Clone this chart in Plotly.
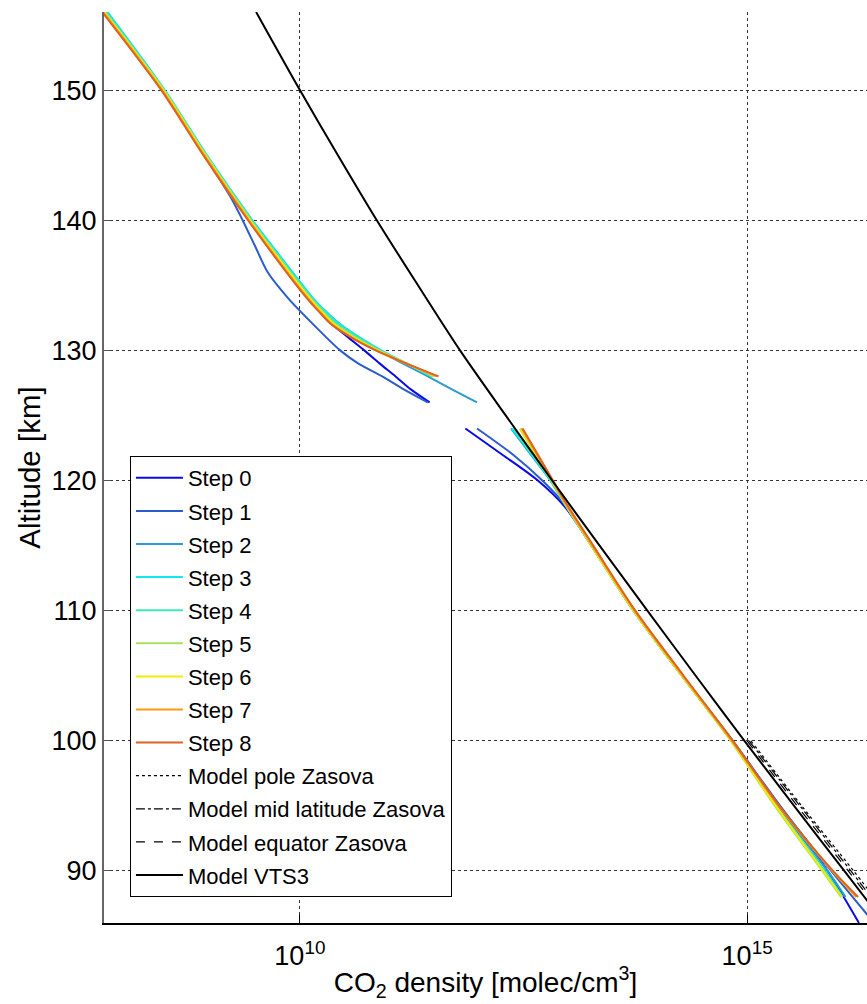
import plotly.graph_objects as go

# ---------------- data ----------------
step_names = ["Step 0", "Step 1", "Step 2", "Step 3", "Step 4",
              "Step 5", "Step 6", "Step 7", "Step 8"]
step_colors = ["#0a0ae6", "#2a5ccc", "#2a9bd4", "#12e6ee", "#3ee8b8",
               "#a8e060", "#f2ec00", "#ff9a10", "#dc6422"]

# upper segments (altitude km, density molec/cm3)
up_alt_a = [156, 150, 145, 140, 136, 134, 133, 132, 131, 130, 129, 128]
step8_up = [6.17e7, 2.82e8, 8.32e8, 2.63e9, 7.08e9, 1.20e10, 1.62e10, 2.24e10, 3.72e10, 7.08e10, 1.55e11, 3.55e11]
step7_up = [6.31e7, 2.88e8, 8.51e8, 2.69e9, 7.24e9, 1.23e10, 1.66e10, 2.29e10, 3.80e10, 7.08e10, 1.51e11, 3.39e11]
step6_up = [6.46e7, 2.95e8, 8.71e8, 2.75e9, 7.59e9, 1.29e10, 1.74e10, 2.40e10, 3.98e10, 7.41e10, 1.55e11, 3.24e11]
step5_up = [6.61e7, 3.02e8, 8.91e8, 2.82e9, 7.76e9, 1.32e10, 1.78e10, 2.51e10, 4.17e10, 7.59e10, 1.55e11, 3.16e11]
step4_up = [6.76e7, 3.02e8, 8.91e8, 2.88e9, 7.94e9, 1.35e10, 1.86e10, 2.63e10, 4.37e10, 7.76e10, 1.55e11, 3.09e11]
step3_up = [7.08e7, 3.09e8, 9.12e8, 2.95e9, 8.32e9, 1.41e10, 1.95e10, 2.82e10, 4.68e10, 8.13e10, 1.55e11, 2.95e11]

up_alt_2 = [156, 150, 145, 140, 137, 134, 132, 130, 128, 127, 126]
step2_up = [6.92e7, 3.02e8, 8.91e8, 2.88e9, 6.03e9, 1.38e10, 2.82e10, 7.59e10, 2.69e11, 5.01e11, 9.55e11]

up_alt_1 = [156, 150, 145, 141.6, 140, 138, 136, 134, 132, 130, 129, 128, 127, 126]
step1_up = [6.31e7, 2.88e8, 8.51e8, 1.74e9, 2.29e9, 3.16e9, 4.37e9, 7.41e9, 1.41e10, 2.82e10, 4.47e10, 8.32e10, 1.45e11, 2.69e11]

up_alt_0 = [156, 150, 145, 140, 136, 134, 133, 132.3, 131, 130, 129, 128, 127, 126]
step0_up = [6.31e7, 2.88e8, 8.51e8, 2.69e9, 7.24e9, 1.23e10, 1.66e10, 2.04e10, 3.47e10, 5.25e10, 7.76e10, 1.175e11, 1.74e11, 2.82e11]

# lower segments
lo_alt_86 = [124, 122, 120, 118, 115, 110, 105, 100, 95, 90, 86]
step0_lo = [7.08e11, 1.82e12, 4.57e12, 9.12e12, 1.82e13, 5.37e13, 1.86e14, 6.76e14, 2.29e15, 7.94e15, 1.78e16]
step1_lo = [9.55e11, 2.40e12, 5.13e12, 9.55e12, 1.86e13, 5.50e13, 1.905e14, 6.92e14, 2.34e15, 8.71e15, 2.63e16]

lo_alt_88 = [124, 122, 120, 118, 115, 110, 105, 100, 95, 90, 88]
step2_lo = [2.29e12, 3.80e12, 6.31e12, 9.55e12, 1.82e13, 5.37e13, 1.905e14, 6.76e14, 2.19e15, 7.94e15, 1.26e16]
step3_lo = [2.34e12, 3.89e12, 6.31e12, 9.55e12, 1.82e13, 5.37e13, 1.86e14, 6.61e14, 2.09e15, 7.41e15, 1.175e16]
step4_lo = [2.45e12, 3.98e12, 6.46e12, 9.55e12, 1.82e13, 5.37e13, 1.86e14, 6.61e14, 2.09e15, 7.24e15, 1.15e16]
step5_lo = [2.88e12, 4.27e12, 6.46e12, 9.55e12, 1.82e13, 5.37e13, 1.86e14, 6.61e14, 2.04e15, 6.92e15, 1.12e16]
step6_lo = [2.95e12, 4.37e12, 6.61e12, 9.77e12, 1.82e13, 5.37e13, 1.86e14, 6.61e14, 2.09e15, 7.08e15, 1.15e16]
step7_lo = [3.02e12, 4.47e12, 6.61e12, 9.77e12, 1.86e13, 5.50e13, 1.905e14, 6.76e14, 2.24e15, 8.91e15, 1.66e16]
step8_lo = [3.09e12, 4.57e12, 6.76e12, 1.00e13, 1.905e13, 5.62e13, 1.95e14, 6.92e14, 2.29e15, 9.12e15, 1.74e16]

# models
vts3_alt = [156, 150, 145, 140, 135, 130, 125, 120, 115, 110, 105, 100, 95, 90, 86]
vts3_dens = [3.24e9, 1.00e10, 2.66e10, 7.24e10, 2.09e11, 6.17e11, 2.00e12, 6.61e12,
             2.24e13, 7.67e13, 2.66e14, 9.33e14, 3.35e15, 1.22e16, 3.43e16]
zasova_alt = [100, 95, 90, 86]
zasova_pole = [1.10e15, 4.07e15, 1.55e16, 4.37e16]
zasova_mid = [1.05e15, 3.89e15, 1.445e16, 4.07e16]
zasova_equator = [1.00e15, 3.63e15, 1.35e16, 3.80e16]

x_tick_vals = [1e10, 1e15]
x_tick_text = ["10<sup>10</sup>", "10<sup>15</sup>"]
y_tick_vals = [90, 100, 110, 120, 130, 140, 150]

# ---------------- assemble ----------------
steps = [
    (up_alt_0, step0_up, lo_alt_86, step0_lo),
    (up_alt_1, step1_up, lo_alt_86, step1_lo),
    (up_alt_2, step2_up, lo_alt_88, step2_lo),
    (up_alt_a, step3_up, lo_alt_88, step3_lo),
    (up_alt_a, step4_up, lo_alt_88, step4_lo),
    (up_alt_a, step5_up, lo_alt_88, step5_lo),
    (up_alt_a, step6_up, lo_alt_88, step6_lo),
    (up_alt_a, step7_up, lo_alt_88, step7_lo),
    (up_alt_a, step8_up, lo_alt_88, step8_lo),
]

FONT = "Liberation Sans, Arial, Helvetica, sans-serif"
fig = go.Figure()

for i, (ua, ud, la, ld) in enumerate(steps):
    fig.add_trace(go.Scatter(
        x=list(ud) + [None] + list(ld),
        y=list(ua) + [None] + list(la),
        mode="lines", name=step_names[i], legendgroup=step_names[i],
        line=dict(color=step_colors[i], width=2, shape="spline", smoothing=0.8),
        connectgaps=False,
    ))

models = [
    ("Model pole Zasova", zasova_alt, zasova_pole, "dot", 1.2),
    ("Model mid latitude Zasova", zasova_alt, zasova_mid, "dashdot", 1.2),
    ("Model equator Zasova", zasova_alt, zasova_equator, "dash", 1.2),
    ("Model VTS3", vts3_alt, vts3_dens, "solid", 2),
]
for name, a, d, dash, w in models:
    fig.add_trace(go.Scatter(
        x=d, y=a, mode="lines", name=name, legendgroup=name,
        line=dict(color="black", width=w, dash=dash, shape="spline", smoothing=0.8),
    ))

fig.update_layout(
    width=867, height=1004,
    margin=dict(l=104, r=0, t=12, b=81),
    paper_bgcolor="white", plot_bgcolor="white",
    font=dict(family=FONT, size=27, color="black"),
    showlegend=True,
    legend=dict(
        x=0.034, y=0.5126, xanchor="left", yanchor="top",
        bgcolor="white", bordercolor="black", borderwidth=1,
        font=dict(family=FONT, size=22, color="black"),
        traceorder="grouped", tracegroupgap=1.5, itemwidth=47,
    ),
)

fig.update_xaxes(
    type="log", range=[7.81, 16.34],
    tickvals=x_tick_vals, ticktext=x_tick_text,
    ticks="inside", ticklen=8, tickcolor="black",
    ticklabelstandoff=8,
    showline=True, linecolor="black", linewidth=1.5, mirror=False,
    showgrid=True, gridcolor="#333333", gridwidth=1, griddash="dot",
    zeroline=False,
    tickfont=dict(family=FONT, size=27),
    title=dict(text="CO<sub>2</sub> density [molec/cm<sup>3</sup>]",
               font=dict(family=FONT, size=28), standoff=2),
)
fig.update_yaxes(
    range=[86, 156],
    tickvals=y_tick_vals,
    ticks="inside", ticklen=7, tickcolor="#555555",
    showline=True, linecolor="#666666", linewidth=2, mirror=False,
    showgrid=True, gridcolor="#333333", gridwidth=1, griddash="dot",
    zeroline=False,
    tickfont=dict(family=FONT, size=27),
    title=dict(text="Altitude [km]", font=dict(family=FONT, size=29.5), standoff=2),
)

fig.write_html("out.html")
